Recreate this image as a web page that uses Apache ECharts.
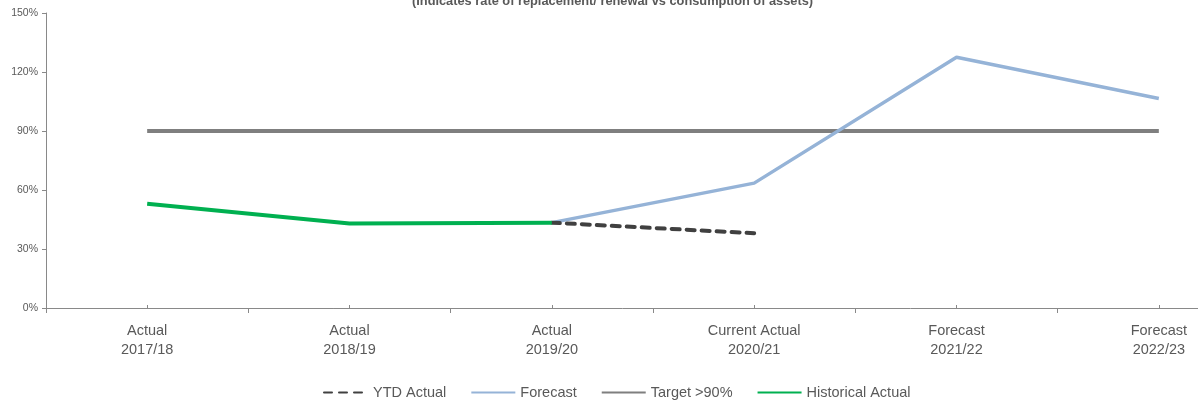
<!DOCTYPE html>
<html>
<head>
<meta charset="utf-8">
<script src="https://cdn.jsdelivr.net/npm/echarts@6/dist/echarts.min.js"></script>
<style>
  html, body { margin: 0; padding: 0; background: #fff; }
  #chart { width: 1198px; height: 408px; }
</style>
</head>
<body>
<div id="chart"></div>
<script>
// values
const categories = ['Actual\n2017/18', 'Actual\n2018/19', 'Actual\n2019/20', 'Current Actual\n2020/21', 'Forecast\n2021/22', 'Forecast\n2022/23'];
const historicalActual = [53, 43, 43.4, null, null, null];
const ytdActual = [null, null, 43.4, 38, null, null];
const forecast = [null, null, 43.4, 63.5, 127.5, 106.5];
const target = [90, 90, 90, 90, 90, 90];
const yTicks = [0, 30, 60, 90, 120, 150];

const textColor = '#595959';
const axisColor = '#898989';
const font = 'Liberation Sans';

const chart = echarts.init(document.getElementById('chart'));

chart.setOption({
    backgroundColor: '#fff',
    animation: false,
    title: {
        text: '(Indicates rate of replacement/ renewal vs consumption of assets)',
        left: 407,
        top: -10,
        textStyle: { color: textColor, fontSize: 12.8, fontWeight: 'bold', fontFamily: font }
    },
    // the plot runs past the right edge, as in the reference
    grid: { top: 13, left: 46, width: 1214, height: 295, outerBoundsMode: 'none', containLabel: false },
    legend: {
        bottom: 3,
        left: 318,
        itemWidth: 44,
        itemHeight: 4,
        itemGap: 24,
        itemStyle: { opacity: 0 },
        textStyle: { color: textColor, fontSize: 14.5, fontFamily: font },
        data: ['YTD Actual', 'Forecast', 'Target >90%', 'Historical Actual']
    },
    xAxis: [
        {
            type: 'category',
            boundaryGap: true,
            data: categories,
            axisLine: { lineStyle: { color: axisColor, width: 1 } },
            axisTick: { show: true, length: 5, lineStyle: { color: axisColor } },
            axisLabel: { color: textColor, fontSize: 14.5, fontFamily: font, lineHeight: 19, margin: 13 }
        },
        {
            // small inner ticks under each point
            type: 'category',
            position: 'bottom',
            boundaryGap: true,
            data: categories,
            axisLine: { show: false },
            axisTick: { show: true, inside: true, alignWithLabel: true, length: 3, lineStyle: { color: axisColor } },
            axisLabel: { show: false }
        }
    ],
    yAxis: {
        type: 'value',
        min: yTicks[0],
        max: yTicks[yTicks.length - 1],
        interval: 30,
        splitLine: { show: false },
        axisLine: { show: true, lineStyle: { color: axisColor } },
        axisTick: { show: true, length: 4, lineStyle: { color: axisColor } },
        axisLabel: { color: textColor, fontSize: 10.5, fontFamily: font, margin: 8, formatter: v => v + '%' }
    },
    series: [
        {
            name: 'Target >90%',
            type: 'line',
            data: target,
            symbol: 'none',
            lineStyle: { color: '#7f7f7f', width: 4 },
            itemStyle: { color: '#7f7f7f' }
        },
        {
            name: 'Forecast',
            type: 'line',
            data: forecast,
            symbol: 'none',
            lineStyle: { color: '#95b3d7', width: 3.5 },
            itemStyle: { color: '#95b3d7' }
        },
        {
            name: 'YTD Actual',
            type: 'line',
            data: ytdActual,
            symbol: 'none',
            lineStyle: { color: '#404040', width: 4, type: [8, 7], cap: 'round' },
            itemStyle: { color: '#404040' }
        },
        {
            name: 'Historical Actual',
            type: 'line',
            data: historicalActual,
            symbol: 'none',
            lineStyle: { color: '#00b050', width: 4 },
            itemStyle: { color: '#00b050' }
        }
    ]
});
</script>
</body>
</html>
